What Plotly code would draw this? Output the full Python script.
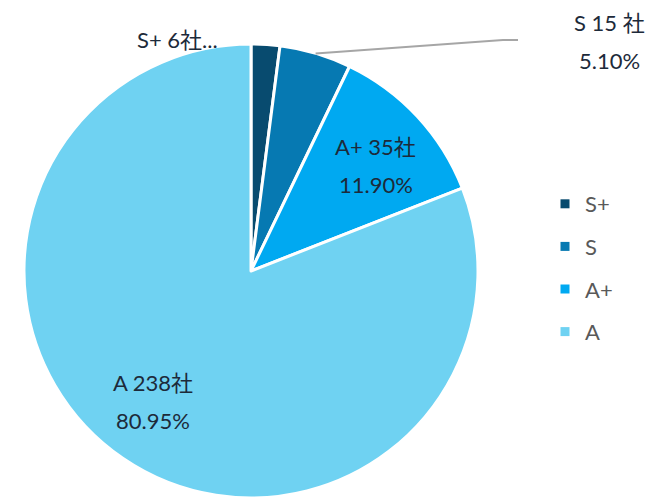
import math
import plotly.graph_objects as go

# ---- data ----
categories = ["S+", "S", "A+", "A"]
companies = [6, 15, 35, 238]
colors = ["#084b6f", "#0679b2", "#00a9f1", "#6fd2f2"]

W, H = 670, 500
OFF = 8                     # page body margin applied by the browser
CX, CY, R = 251, 271, 227   # target pixel centre / radius of the pie

total = sum(companies)
pcts = [c / total * 100 for c in companies]


def px(x, y):
    """screen pixel -> paper coords (compensating page margin)"""
    return (x - OFF) / W, 1 - (y - OFF) / H


fig = go.Figure()
x0, _ = px(CX - R, 0)
x1, _ = px(CX + R, 0)
_, y1 = px(0, CY - R)
_, y0 = px(0, CY + R)
fig.add_trace(go.Pie(
    labels=categories, values=companies, sort=False, direction="clockwise",
    rotation=0, marker=dict(colors=colors, line=dict(color="white", width=3)),
    textinfo="none", hoverinfo="label+value+percent", showlegend=False,
    domain=dict(x=[x0, x1], y=[y0, y1]),
))

# legend entries via empty scatter traces (square markers)
for cat, col in zip(categories, colors):
    fig.add_trace(go.Scatter(x=[None], y=[None], mode="markers", name=cat,
                             legendgroup=cat,
                             marker=dict(symbol="square", size=9, color=col)))

# angles (clockwise from 12 o'clock)
cum = 0
mids = []
for c in companies:
    a0 = cum / total * 360
    cum += c
    a1 = cum / total * 360
    mids.append((a0 + a1) / 2)

FONT = "Lato, 'Noto Sans CJK JP', sans-serif"
tf = dict(family=FONT, size=22, color="#1d2a3a")
ann = []


def label(x, y, text, **kw):
    px_, py_ = px(x, y)
    d = dict(x=px_, y=py_, xref="paper", yref="paper", showarrow=False,
             xanchor="center", yanchor="middle", text=text, font=tf, borderpad=0)
    d.update(kw)
    ann.append(d)


# inside labels for A+ and A
for i in (2, 3):
    a = math.radians(mids[i] + 2.5)
    lx = CX + 0.72 * R * math.sin(a)
    ly = CY - 0.72 * R * math.cos(a)
    label(lx, ly - 19, f"{categories[i]} {companies[i]}社")
    label(lx, ly + 19, f"{pcts[i]:.2f}%")

# outside label for S with leader line
a = math.radians(mids[1])
ex = CX + R * math.sin(a)
ey = CY - R * math.cos(a)
bx, by = 503, 40
label(609, 22, f"{categories[1]} {companies[1]} 社")
label(609, 61, f"{pcts[1]:.2f}%")
# truncated label for S+
label(CX - 32, CY - R - 5, f"{categories[0]} {companies[0]}社...", xanchor="right")

p1 = px(ex, ey)
p2 = px(bx, by)
p3 = px(518, by)
fig.add_shape(type="path",
              path=f"M {p1[0]} {p1[1]} L {p2[0]} {p2[1]} L {p3[0]} {p3[1]}",
              xref="paper", yref="paper", line=dict(color="#a6a6a6", width=2))

lx, ly = px(545, 183)
fig.update_layout(
    width=W, height=H, margin=dict(l=0, r=0, t=0, b=0),
    paper_bgcolor="white", plot_bgcolor="white",
    annotations=ann,
    xaxis=dict(visible=False), yaxis=dict(visible=False),
    legend=dict(x=lx, y=ly, xanchor="left", yanchor="top",
                font=dict(family=FONT, size=22, color="#595959"),
                tracegroupgap=11, itemwidth=30),
)

fig.write_html("out.html")
